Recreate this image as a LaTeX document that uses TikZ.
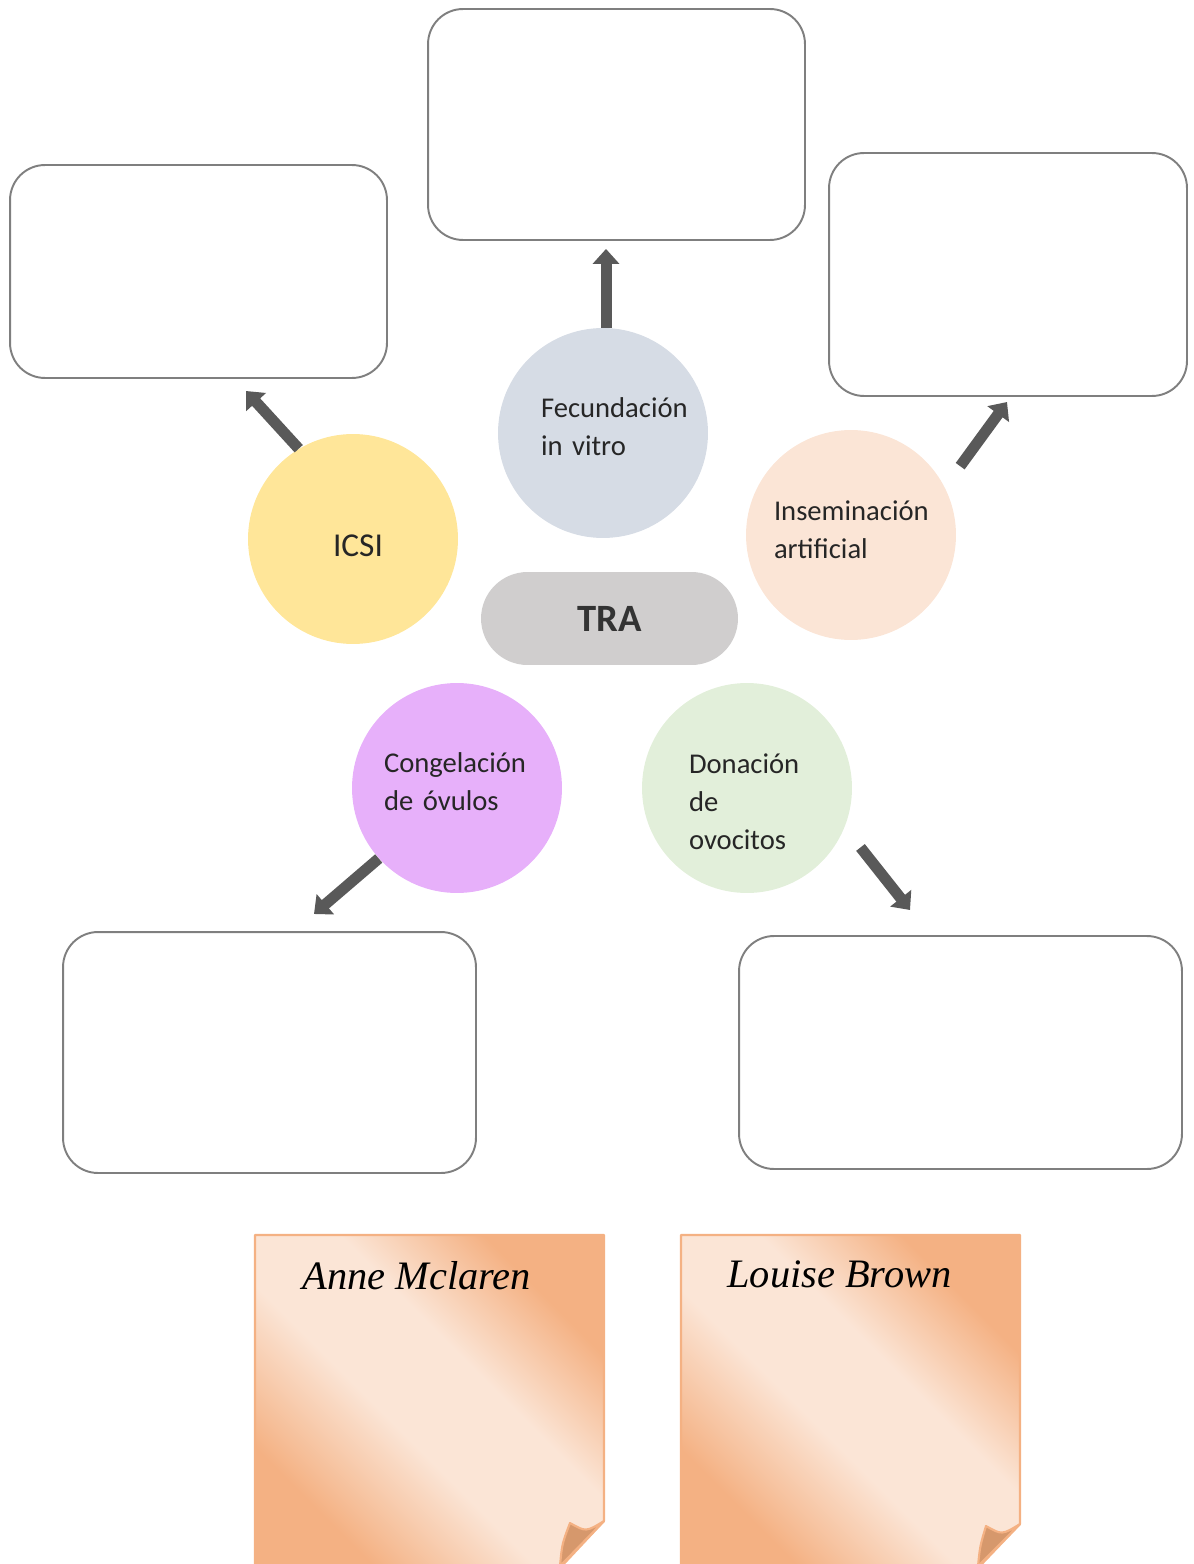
\documentclass[tikz,border=0pt]{standalone}
\usepackage{fontspec}
\setmainfont{Carlito}
\newfontfamily\handfont{Liberation Serif}
\usepackage{xcolor}
\usetikzlibrary{arrows.meta}
\definecolor{boxgray}{RGB}{127,127,127}
\definecolor{arrowgray}{RGB}{89,89,89}
\definecolor{textdark}{RGB}{38,38,38}
\definecolor{fivblue}{RGB}{214,220,229}
\definecolor{icsiyellow}{RGB}{255,230,153}
\definecolor{iapeach}{RGB}{251,229,214}
\definecolor{congviolet}{RGB}{231,176,250}
\definecolor{donagreen}{RGB}{226,239,218}
\definecolor{tragray}{RGB}{208,206,206}
\definecolor{noteorange}{RGB}{244,177,131}
\definecolor{notelight}{RGB}{251,229,214}
\definecolor{flapbrown}{RGB}{214,152,108}
\pgfdeclarehorizontalshading{notebands}{100bp}{color(0bp)=(noteorange); color(27bp)=(noteorange); color(44bp)=(notelight); color(58bp)=(notelight); color(73bp)=(noteorange); color(100bp)=(noteorange)}

\begin{document}
\begin{tikzpicture}[x=0.02cm, y=-0.02cm]
    % Define styles
    \tikzstyle{answer} = [rectangle, draw=boxgray, line width=1.1pt, rounded corners=0.7cm]
    \tikzstyle{method} = [circle, minimum size=4.2cm, inner sep=0pt, align=left, text=textdark, font=\fontsize{16.3}{21.5}\selectfont]
    \tikzstyle{arrow} = [line width=0.22cm, arrowgray, -{Triangle[width=0.52cm,length=0.3cm]}]
    \tikzstyle{note} = [draw=noteorange, line width=1.2pt, line join=round, shading=notebands, shading angle=45]
    \tikzstyle{flap} = [draw=noteorange, line width=1.2pt, line join=round, fill=flapbrown]
    \tikzstyle{person} = [inner sep=0pt, anchor=base west, font=\handfont\itshape\fontsize{23}{27}\selectfont]

    \useasboundingbox (0,0) rectangle (1193,1564);

    % Empty answer boxes
    \node (top) [answer, minimum width=7.54cm, minimum height=4.62cm] at (616.5,124.5) {};
    \node (left) [answer, minimum width=7.54cm, minimum height=4.26cm] at (198.5,271.5) {};
    \node (right) [answer, minimum width=7.16cm, minimum height=4.86cm] at (1008,274.5) {};
    \node (botleft) [answer, minimum width=8.26cm, minimum height=4.82cm] at (269.5,1052.5) {};
    \node (botright) [answer, minimum width=8.86cm, minimum height=4.66cm] at (960.5,1052.5) {};

    % Centre and techniques
    \node (tra) [rectangle, fill=tragray, rounded corners=0.93cm, minimum width=5.14cm, minimum height=1.86cm, text=black!80, font=\bfseries\fontsize{22}{26}\selectfont] at (609.5,618.5) {TRA};
    \node (fiv) [method, fill=fivblue, text width=2.48cm] at (603,433) {Fecundación\\in vitro\rule[-0.25cm]{0pt}{0pt}};
    \node (icsi) [method, fill=icsiyellow, align=center, font=\fontsize{19}{22}\selectfont] at (353,539) {\hspace{0.2cm}\raisebox{-0.36cm}[0pt][0pt]{ICSI}};
    \node (ia) [method, fill=iapeach, text width=3.08cm] at (851,535) {Inseminación\\artificial\rule[-0.2cm]{0pt}{0pt}};
    \node (cong) [method, fill=congviolet, text width=2.92cm] at (457,788) {Congelación\\de óvulos\rule[-0.25cm]{0pt}{0pt}};
    \node (don) [method, fill=donagreen, text width=2.32cm] at (747,788) {\rule{0pt}{0.95cm}Donación\\de\\ovocitos};

    % Arrow ends
    \coordinate (icsiend) at (246,391);
    \coordinate (iaend) at (1007,402);
    \coordinate (congend) at (314,914);
    \coordinate (donend) at (910,910);

    % Draw arrows
    \draw [arrow, shorten >=0.16cm] ([xshift=0.06cm]fiv.north) -- ([xshift=0.06cm]fiv.north |- top.south);
    \draw [arrow] (icsi.121) -- (icsiend);
    \draw [arrow, shorten <=0.52cm] (ia.27) -- (iaend);
    \draw [arrow] (cong.222) -- (congend);
    \draw [arrow, shorten <=0.51cm] (don.-22) -- (donend);

    % Sticky notes
    \shadedraw [note] (255,1235) -- (604,1235) -- (604,1521) -- (560,1568) -- (255,1568) -- cycle;
    \draw [flap] (570,1523) .. controls (586,1532) .. (604,1521) -- (560,1566) .. controls (562,1544) .. (570,1523) -- cycle;
    \node (anne) [person] at (302,1289) {Anne Mclaren};

    \shadedraw [note] (681,1235) -- (1020,1235) -- (1020,1524) -- (978,1568) -- (681,1568) -- cycle;
    \draw [flap] (986,1526) .. controls (1002,1535) .. (1020,1524) -- (978,1566) .. controls (980,1546) .. (986,1526) -- cycle;
    \node (louise) [person] at (727,1287) {Louise Brown};
\end{tikzpicture}
\end{document}
